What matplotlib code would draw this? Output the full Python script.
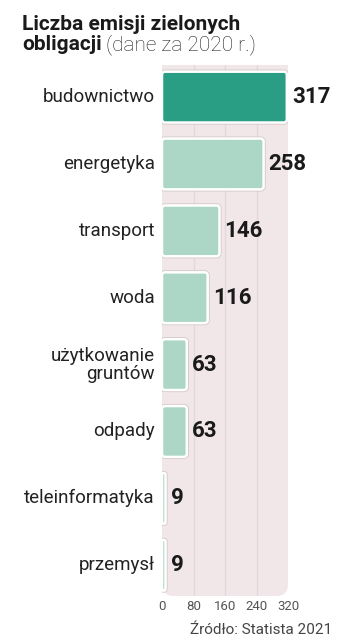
import matplotlib.pyplot as plt
from matplotlib.patches import FancyBboxPatch, Rectangle
import numpy as np

categories = ['budownictwo', 'energetyka', 'transport', 'woda',
              'użytkowanie\ngruntów', 'odpady', 'teleinformatyka', 'przemysł']
values = [317, 258, 146, 116, 63, 63, 9, 9]
ticks = [0, 80, 160, 240, 320]

dark = '#2a9d85'
light = '#acd6c5'
panel = '#f1e7e9'
grid = '#e4d6da'

W, H = 355, 640
fig = plt.figure(figsize=(W / 100, H / 100), dpi=100)
ax = fig.add_axes([162 / W, 1 - 596 / H, 126 / W, 531 / H])

xmin, xmax = 0, 320
ymin, ymax = -0.48, 7.46
ax.set_xlim(xmin, xmax)
ax.set_ylim(ymax, ymin)
ax.patch.set_visible(False)
for s in ax.spines.values():
    s.set_visible(False)

# panel: rounded bottom corners, square top
bg = FancyBboxPatch((0, 0), 1, 1, boxstyle="round,pad=0,rounding_size=0.09",
                    mutation_aspect=126 / 531, transform=ax.transAxes,
                    facecolor=panel, edgecolor='none', zorder=0, clip_on=False)
ax.add_patch(bg)
ax.add_patch(Rectangle((0, 0.5), 1, 0.5, transform=ax.transAxes,
                       facecolor=panel, edgecolor='none', zorder=0))
for t in ticks[1:-1]:
    ax.axvline(t, color=grid, lw=1, zorder=1)

# px -> data units
xu = (xmax - xmin) / 126
yu = (ymax - ymin) / 531
h = 0.76
for i, v in enumerate(values):
    col = dark if i == 0 else light
    r = min(3 * xu, v / 2)
    for lw, ec, z in [(3.0, '#d2c9cb', 2), (1.8, 'white', 3)]:
        p = FancyBboxPatch((0, i - h / 2), v, h,
                           boxstyle=f"round,pad=0,rounding_size={r}",
                           mutation_aspect=yu / xu,
                           facecolor=col, edgecolor=ec, lw=lw, zorder=z)
        ax.add_patch(p)
    ax.text(v + 5 * xu, i, str(v), ha='left', va='center', fontsize=16,
            fontweight='bold', family='Roboto', color='#1a1a1a')
    ax.text(-7 * xu, i, categories[i], ha='right', va='center', fontsize=13.5,
            family='Roboto', color='#222222', linespacing=1.0)

ax.set_xticks(ticks)
ax.set_xticklabels([str(t) for t in ticks], family='Roboto', fontsize=9.5, color='#555555')
ax.tick_params(axis='x', length=0, pad=3)
ax.set_yticks([])

fig.text(22 / W, 1 - 24 / H, 'Liczba emisji zielonych', ha='left', va='center',
         fontsize=15, fontweight='bold', family='Roboto', color='#1a1a1a')
t2 = fig.text(22 / W, 1 - 45 / H, 'obligacji', ha='left', va='center',
              fontsize=15, fontweight='bold', family='Roboto', color='#1a1a1a')
fig.canvas.draw()
bb = t2.get_window_extent()
fig.text(bb.x1 / W + 4 / W, 1 - 45 / H, '(dane za 2020 r.)', ha='left', va='center',
         fontsize=15, fontweight='light', family='Roboto', color='#222222')

fig.text(332 / W, 1 - 630 / H, 'Źródło: Statista 2021', ha='right', va='center',
         fontsize=11, family='Roboto', color='#444444')

fig.savefig('out.png', dpi=100)
